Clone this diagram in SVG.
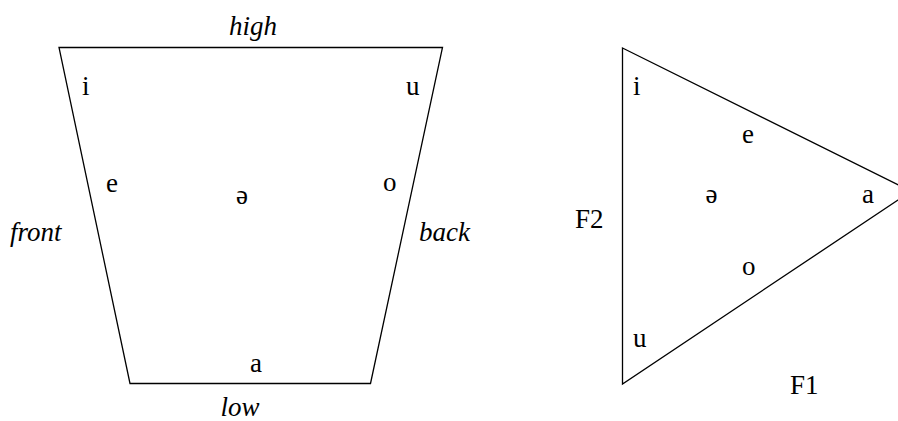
<svg xmlns="http://www.w3.org/2000/svg" width="898" height="421" viewBox="0 0 898 421">
<style>
.t{font-family:'Liberation Serif','Times New Roman',serif;font-size:27px;fill:#000}
.it{font-style:italic}
.ln{fill:none;stroke:#000;stroke-width:1.3}
</style>
<rect width="898" height="421" fill="#fff"/>
<g id="connectors">
<polygon id="trapezoid" class="ln" points="59,47.5 442.5,47.5 370.5,383.5 130,383.5"/>
<polygon id="triangle" class="ln" points="622.5,48 911,191.3 622.5,384"/>
</g>
<g id="trap-labels">
<g id="high"><text class="t it" x="253" y="35" text-anchor="middle">high</text></g>
<g id="low"><text class="t it" x="240" y="416" text-anchor="middle">low</text></g>
<g id="front"><text class="t it" x="10" y="241">front</text></g>
<g id="back"><text class="t it" x="419" y="241">back</text></g>
<g id="t-i"><text class="t" x="82" y="95">i</text></g>
<g id="t-u"><text class="t" x="406" y="95">u</text></g>
<g id="t-e"><text class="t" x="106" y="192">e</text></g>
<g id="t-o"><text class="t" x="383" y="191">o</text></g>
<g id="t-schwa"><text class="t" x="242" y="204" text-anchor="middle">ə</text></g>
<g id="t-a"><text class="t" x="250" y="372">a</text></g>
</g>
<g id="tri-labels">
<g id="F2"><text class="t" x="575" y="228">F2</text></g>
<g id="F1"><text class="t" x="790" y="394">F1</text></g>
<g id="r-i"><text class="t" x="633" y="95">i</text></g>
<g id="r-e"><text class="t" x="742" y="143">e</text></g>
<g id="r-schwa"><text class="t" x="711.5" y="203" text-anchor="middle">ə</text></g>
<g id="r-a"><text class="t" x="862" y="203">a</text></g>
<g id="r-o"><text class="t" x="742" y="275">o</text></g>
<g id="r-u"><text class="t" x="633" y="347">u</text></g>
</g>
</svg>
